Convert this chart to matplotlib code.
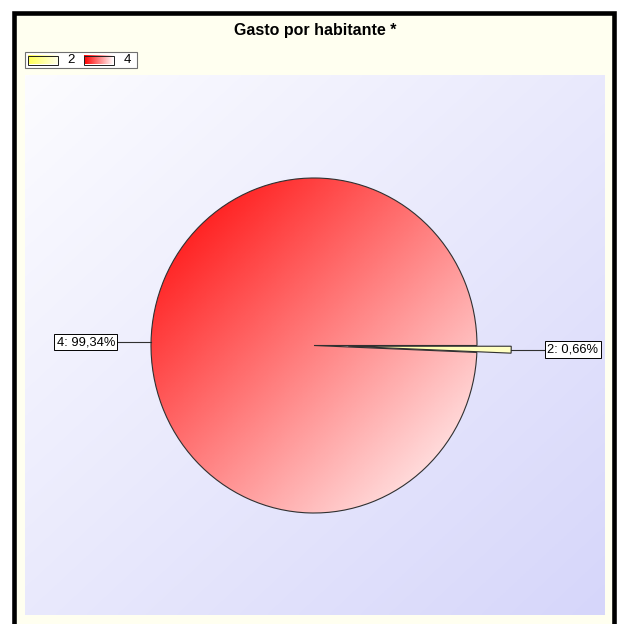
import numpy as np
import matplotlib
matplotlib.use("Agg")
import matplotlib.pyplot as plt
from matplotlib.patches import Rectangle
from matplotlib.colors import LinearSegmentedColormap
from matplotlib.transforms import Affine2D

# ---- data ----
categories = ["2", "4"]
values = [0.66, 99.34]
pct_labels = ["2: 0,66%", "4: 99,34%"]
title = "Gasto por habitante *"

# ---- styling ----
grad_colors = [("#FFFF55", "#FFFFE8"), ("#FF0000", "#FFFFFF")]
FONT = "Liberation Sans"
W, H = 618, 624

fig = plt.figure(figsize=(W / 100, H / 100), dpi=100, facecolor="white")
ax = fig.add_axes([0, 0, 1, 1])


def Y(y):
    return H - y


def grad_image(x0, x1, y0, y1, c0, c1, n=200):
    """diagonal gradient (top-left -> bottom-right) in pixel coords"""
    cmap = LinearSegmentedColormap.from_list("g", [c0, c1])
    xs = np.linspace(0, 1, n)
    ys = np.linspace(0, 1, n)
    X, Yg = np.meshgrid(xs, ys)
    t = (X + Yg) / 2.0
    img = cmap(t)
    return ax.imshow(img, extent=(x0, x1, Y(y1), Y(y0)), origin="upper",
                     interpolation="bilinear", aspect="auto")


# outer frame with cream background
ax.add_patch(Rectangle((14, Y(640)), 600, 640 - 12.5, facecolor="#FFFFF0",
                       edgecolor="black", linewidth=3.3, zorder=-3))

# plot area gradient
bg = grad_image(25, 605, 75, 615, "#FCFCFF", "#D6D6FA")
bg.set_zorder(-2)

# pie (unit pie mapped onto a slightly elliptical area)
cx, cy, RX, RY = 314, 345.5, 163, 167.5
explode = [0.21, 0]
pie_tr = Affine2D().scale(RX, RY).translate(cx, Y(cy))
wedges, _ = ax.pie(values, startangle=0, counterclock=False, radius=1,
                   center=(0, 0), explode=explode,
                   colors=["none", "none"],
                   wedgeprops=dict(edgecolor="#303030", linewidth=0.8))
for w, (c0, c1), e in zip(wedges, grad_colors, explode):
    w.set_transform(pie_tr + ax.transData)
    w.set_zorder(2)
    w.set_clip_on(False)
    im = grad_image(cx - RX, cx + RX * (1 + e), cy - RY, cy + RY, c0, c1)
    im.set_zorder(1)
    im.set_clip_path(w)

# labels with leader lines
for w, txt in zip(wedges, pct_labels):
    th = np.deg2rad((w.theta1 + w.theta2) / 2.0)
    ux = w.center[0] + w.r * np.cos(th)
    uy = w.center[1] + w.r * np.sin(th)
    x0, y0 = pie_tr.transform((ux, uy))
    side = 1 if np.cos(th) >= 0 else -1
    x1 = x0 + side * 33
    ax.plot([x0, x1], [y0, y0], color="#303030", lw=0.8, zorder=3)
    ax.text(x1 + side * 3, y0, txt, ha="left" if side > 0 else "right",
            va="center", fontsize=9.3, family=FONT, zorder=4,
            bbox=dict(boxstyle="square,pad=0.18", fc="white", ec="black", lw=0.7))

# title
ax.text(315, Y(31), title, ha="center", va="center", fontsize=11.5,
        fontweight="bold", family=FONT)

# legend
ax.add_patch(Rectangle((25, Y(68)), 112, 16, facecolor="white",
                       edgecolor="#707070", linewidth=0.8, zorder=3))
for i, (cat, (c0, c1)) in enumerate(zip(categories, grad_colors)):
    lx = 28 + i * 56
    cmap = LinearSegmentedColormap.from_list("l", [c0, c1])
    img = cmap(np.linspace(0, 1, 50))[None, :, :]
    ax.imshow(img, extent=(lx, lx + 30, Y(64.5), Y(56)), aspect="auto",
              interpolation="bilinear", zorder=4)
    ax.add_patch(Rectangle((lx, Y(64.5)), 30, 8.5, facecolor="none",
                           edgecolor="#202020", linewidth=0.7, zorder=5))
    ax.text(lx + 39.5, Y(60), cat, ha="left", va="center", fontsize=9.5,
            family=FONT, zorder=5)

ax.set_autoscale_on(False)
ax.set_xlim(0, W)
ax.set_ylim(0, H)
ax.set_aspect("auto")
ax.axis("off")

fig.savefig("out.png", dpi=100, facecolor="white")
